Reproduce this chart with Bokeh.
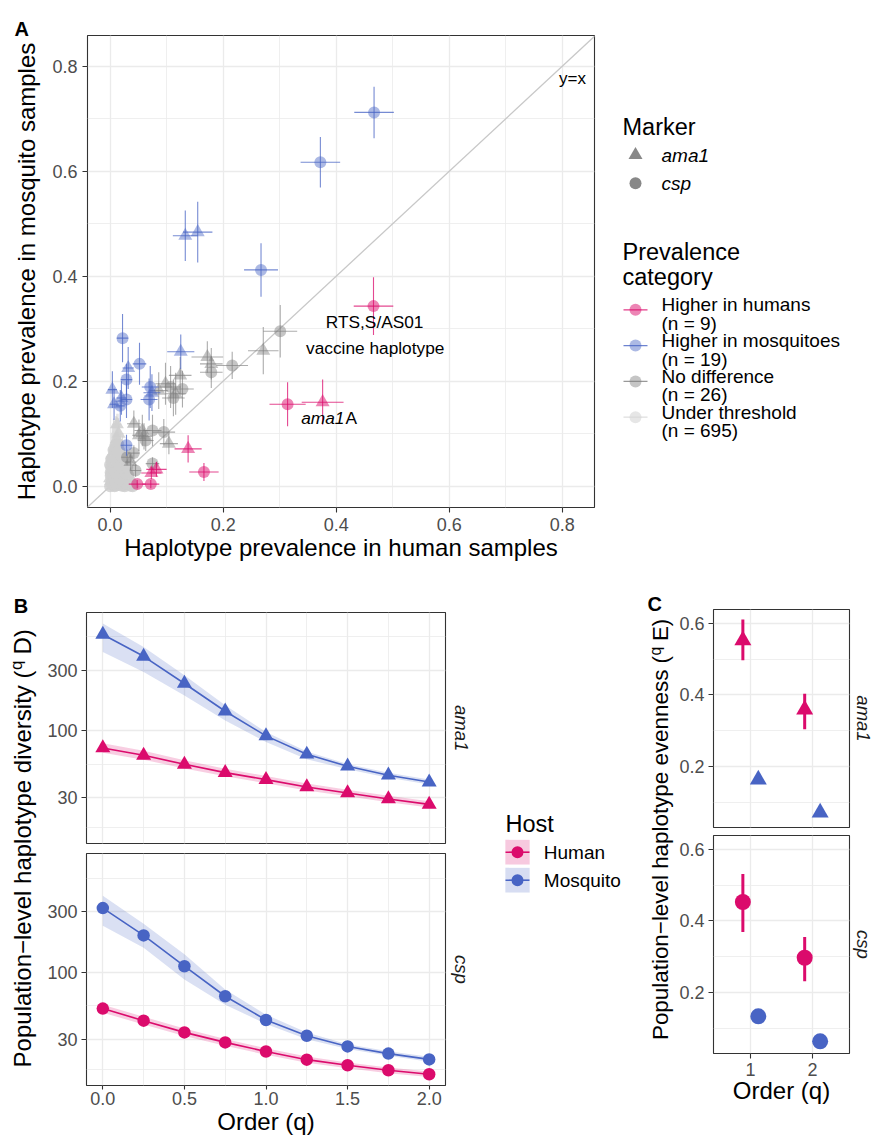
import math
from bokeh.plotting import figure
from bokeh.layouts import row, column
from bokeh.models import (Range1d, FixedTicker, PrintfTickFormatter, Slope,
                          ColumnDataSource, CDSView, GroupFilter)
from bokeh.embed import file_html
from bokeh.resources import INLINE
from bokeh.core.properties import value
from bokeh.transform import dodge

FONT = "Liberation Sans"
HUMAN = "#DB0B6C"
MOSQ = "#4864C4"
GREY = "#7F7F7F"
UTC = "#CFCFCF"
TICKC = "#4D4D4D"
FRAME = "#333333"
GRID = "#EBEBEB"

# ---------------- Panel A data ----------------
hh_marker = ["csp", "csp", "ama1", "ama1", "csp", "csp", "csp", "ama1", "ama1"]
hh_x = [0.466, 0.314, 0.376, 0.138, 0.166, 0.048, 0.072, 0.073, 0.082]
hh_y = [0.343, 0.156, 0.160, 0.071, 0.027, 0.004, 0.004, 0.025, 0.032]
hh_xe = [0.035, 0.032, 0.037, 0.024, 0.026, 0.015, 0.015, 0.018, 0.018]
hh_ye = [0.055, 0.042, 0.043, 0.026, 0.017, 0.008, 0.008, 0.012, 0.014]

hm_marker = ["csp", "csp", "csp", "ama1", "ama1", "csp", "ama1", "csp", "ama1", "csp",
             "ama1", "csp", "ama1", "csp", "csp", "ama1", "csp", "csp", "ama1"]
hm_x = [0.467, 0.372, 0.267, 0.133, 0.155, 0.022, 0.125, 0.052, 0.032, 0.029,
        0.004, 0.071, 0.074, 0.069, 0.029, 0.007, 0.018, 0.029, 0.020]
hm_y = [0.712, 0.617, 0.412, 0.477, 0.484, 0.282, 0.256, 0.233, 0.225, 0.203,
        0.184, 0.189, 0.178, 0.165, 0.165, 0.156, 0.153, 0.078, 0.168]
hm_xe = [0.035, 0.035, 0.030, 0.022, 0.026, 0.010, 0.024, 0.012, 0.010, 0.010,
         0.008, 0.015, 0.015, 0.015, 0.010, 0.008, 0.008, 0.010, 0.009]
hm_ye = [0.049, 0.048, 0.051, 0.048, 0.058, 0.046, 0.033, 0.040, 0.040, 0.030,
         0.035, 0.040, 0.035, 0.040, 0.035, 0.030, 0.030, 0.020, 0.032]

nd_marker = ["csp", "ama1", "csp", "ama1", "ama1", "csp", "ama1", "ama1", "csp", "ama1",
             "csp", "ama1", "ama1", "ama1", "csp", "csp", "ama1", "csp", "csp", "csp",
             "ama1", "csp", "ama1", "ama1", "csp", "csp"]
nd_x = [0.301, 0.271, 0.216, 0.172, 0.179, 0.179, 0.124, 0.098, 0.107, 0.116,
        0.112, 0.042, 0.057, 0.051, 0.075, 0.095, 0.104, 0.042, 0.045, 0.075,
        0.060, 0.063, 0.036, 0.086, 0.128, 0.030]
nd_y = [0.295, 0.258, 0.230, 0.246, 0.233, 0.217, 0.211, 0.195, 0.189, 0.176,
        0.168, 0.119, 0.106, 0.097, 0.106, 0.103, 0.081, 0.063, 0.030, 0.043,
        0.095, 0.087, 0.046, 0.182, 0.185, 0.055]
nd_xe = [0.030, 0.027, 0.028, 0.028, 0.020, 0.020, 0.020, 0.018, 0.018, 0.018,
         0.020, 0.012, 0.014, 0.012, 0.016, 0.020, 0.016, 0.010, 0.010, 0.012,
         0.014, 0.014, 0.010, 0.016, 0.020, 0.010]
nd_ye = [0.050, 0.045, 0.026, 0.030, 0.030, 0.030, 0.035, 0.040, 0.040, 0.040,
         0.035, 0.025, 0.030, 0.030, 0.030, 0.025, 0.020, 0.015, 0.012, 0.012,
         0.025, 0.020, 0.015, 0.035, 0.035, 0.015]

# "Under threshold" cloud (a representative, hand-read subset of the 695 points)
ut_marker = ["csp", "ama1", "csp", "csp", "ama1", "csp", "csp", "ama1", "csp", "csp",
             "ama1", "csp", "csp", "ama1", "csp", "csp", "ama1", "csp",
             "csp", "csp", "ama1", "csp", "csp", "ama1", "csp", "csp",
             "ama1", "csp", "csp", "csp", "ama1", "csp", "csp",
             "csp", "ama1", "csp", "csp", "ama1", "csp",
             "csp", "csp", "ama1", "csp", "csp",
             "ama1", "csp", "csp", "csp",
             "csp", "ama1", "csp",
             "csp", "csp", "ama1",
             "csp", "csp", "ama1", "csp", "csp",
             "ama1", "csp", "csp", "csp", "ama1",
             "csp", "csp", "ama1", "csp",
             "csp", "ama1", "csp", "csp",
             "csp", "csp", "ama1",
             "csp", "ama1", "csp",
             "csp", "csp",
             "ama1", "ama1"]
ut_x = [0.000, 0.004, 0.008, 0.012, 0.017, 0.021, 0.026, 0.031, 0.036, 0.040,
        0.002, 0.006, 0.011, 0.015, 0.019, 0.024, 0.029, 0.034,
        0.001, 0.005, 0.009, 0.014, 0.018, 0.023, 0.027, 0.032,
        0.003, 0.007, 0.012, 0.016, 0.020, 0.025, 0.029,
        0.000, 0.005, 0.010, 0.014, 0.019, 0.023,
        0.002, 0.007, 0.011, 0.016, 0.021,
        0.004, 0.009, 0.013, 0.018,
        0.006, 0.011, 0.016,
        0.010, 0.014, 0.012,
        0.002, 0.010, 0.019, 0.028, 0.038,
        0.000, 0.008, 0.017, 0.026, 0.035,
        0.001, 0.010, 0.019, 0.028,
        0.002, 0.011, 0.021, 0.030,
        0.003, 0.012, 0.021,
        0.005, 0.014, 0.022,
        0.008, 0.014,
        0.012, 0.015]
ut_y = [0.000, 0.001, 0.000, 0.002, 0.000, 0.001, 0.000, 0.002, 0.001, 0.000,
        0.010, 0.009, 0.011, 0.008, 0.012, 0.010, 0.009, 0.011,
        0.020, 0.022, 0.019, 0.021, 0.020, 0.023, 0.018, 0.021,
        0.031, 0.030, 0.033, 0.029, 0.032, 0.030, 0.028,
        0.041, 0.043, 0.040, 0.044, 0.042, 0.039,
        0.052, 0.050, 0.054, 0.051, 0.049,
        0.060, 0.062, 0.059, 0.061,
        0.069, 0.071, 0.068,
        0.078, 0.080, 0.118,
        0.005, 0.006, 0.004, 0.005, 0.006,
        0.015, 0.016, 0.014, 0.015, 0.016,
        0.026, 0.025, 0.027, 0.024,
        0.036, 0.037, 0.035, 0.036,
        0.047, 0.046, 0.048,
        0.056, 0.057, 0.055,
        0.065, 0.066,
        0.090, 0.100]
ut_xe = [0.003, 0.004, 0.003, 0.005, 0.004, 0.005, 0.004, 0.006, 0.005, 0.006,
         0.004, 0.005, 0.006, 0.005, 0.006, 0.005, 0.006, 0.007,
         0.005, 0.006, 0.006, 0.007, 0.006, 0.007, 0.008, 0.008,
         0.006, 0.007, 0.008, 0.007, 0.008, 0.008, 0.009,
         0.006, 0.007, 0.008, 0.008, 0.009, 0.009,
         0.007, 0.008, 0.009, 0.009, 0.010,
         0.008, 0.009, 0.010, 0.010,
         0.009, 0.010, 0.010,
         0.010, 0.011, 0.008,
         0.003, 0.004, 0.005, 0.005, 0.006,
         0.004, 0.005, 0.006, 0.006, 0.007,
         0.005, 0.006, 0.007, 0.007,
         0.006, 0.007, 0.008, 0.008,
         0.007, 0.008, 0.008,
         0.008, 0.009, 0.009,
         0.009, 0.009,
         0.008, 0.009]
ut_ye = [0.004, 0.005, 0.004, 0.006, 0.005, 0.004, 0.005, 0.006, 0.004, 0.005,
         0.012, 0.010, 0.014, 0.011, 0.012, 0.010, 0.011, 0.012,
         0.020, 0.025, 0.018, 0.022, 0.020, 0.024, 0.016, 0.019,
         0.030, 0.034, 0.028, 0.026, 0.032, 0.022, 0.020,
         0.040, 0.045, 0.036, 0.038, 0.030, 0.028,
         0.050, 0.048, 0.052, 0.040, 0.035,
         0.055, 0.060, 0.050, 0.045,
         0.060, 0.062, 0.050,
         0.055, 0.058, 0.020,
         0.006, 0.007, 0.006, 0.005, 0.006,
         0.014, 0.016, 0.013, 0.012, 0.012,
         0.022, 0.024, 0.020, 0.018,
         0.032, 0.035, 0.028, 0.025,
         0.040, 0.042, 0.035,
         0.048, 0.050, 0.040,
         0.055, 0.052,
         0.035, 0.030]

prev_labels = ["Higher in humans", "Higher in mosquitoes", "No difference", "Under threshold"]
prev_counts = ["(n = 9)", "(n = 19)", "(n = 26)", "(n = 695)"]
marker_labels = ["ama1", "csp"]
a_ticks = [0.0, 0.2, 0.4, 0.6, 0.8]
a_minor = [0.1, 0.3, 0.5, 0.7]

# ---------------- Panel B data ----------------
q_vals = [0.0, 0.25, 0.5, 0.75, 1.0, 1.25, 1.5, 1.75, 2.0]
mq_ama1 = [573, 386, 236, 143, 91.5, 65.6, 52.8, 44.9, 39.7]
mq_ama1_lo = [418, 291, 190, 121, 82, 60, 50, 43, 38]
mq_ama1_hi = [698, 457, 274, 159, 98, 69, 55, 47, 41.5]
hu_ama1 = [73.5, 64.4, 54.7, 47.1, 41.5, 36.3, 32.6, 29.2, 26.5]
hu_ama1_lo = [67.5, 59.5, 50.8, 44.0, 38.9, 34.1, 30.7, 27.5, 25.0]
hu_ama1_hi = [80.0, 69.8, 59.0, 50.5, 44.3, 38.6, 34.6, 31.0, 28.1]
mq_csp = [319, 195, 112, 65.2, 42.5, 32, 26.4, 23.2, 20.9]
mq_csp_lo = [232, 156, 88, 56, 39.6, 30, 25.2, 22.3, 20.0]
mq_csp_hi = [398, 241, 139, 73.6, 46.8, 34, 27.5, 24.2, 21.9]
hu_csp = [52.2, 42.0, 34.0, 28.4, 24.1, 20.8, 18.8, 17.2, 16.0]
hu_csp_lo = [48.5, 39.2, 31.8, 26.7, 22.7, 19.7, 17.8, 16.3, 15.2]
hu_csp_hi = [56.0, 45.0, 36.4, 30.2, 25.6, 22.0, 19.8, 18.1, 16.8]
b_yticks = [30, 100, 300]
b_yminor = [17.32, 54.77, 547.7]
b_xticks = [0.0, 0.5, 1.0, 1.5, 2.0]
b_xminor = [0.25, 0.75, 1.25, 1.75]

# ---------------- Panel C data ----------------
c_q = [1, 2]
ev_hu_ama1 = [0.553, 0.359]
ev_hu_ama1_lo = [0.497, 0.304]
ev_hu_ama1_hi = [0.611, 0.403]
ev_mq_ama1 = [0.163, 0.071]
ev_mq_ama1_lo = [0.160, 0.068]
ev_mq_ama1_hi = [0.166, 0.074]
ev_hu_csp = [0.453, 0.297]
ev_hu_csp_lo = [0.369, 0.231]
ev_hu_csp_hi = [0.531, 0.355]
ev_mq_csp = [0.133, 0.063]
ev_mq_csp_lo = [0.130, 0.060]
ev_mq_csp_hi = [0.136, 0.066]
c_yticks = [0.2, 0.4, 0.6]
c_yminor = [0.1, 0.3, 0.5]


# ---------------- helpers ----------------
def blank(w, h):
    p = figure(width=w, height=h, x_range=Range1d(0, w), y_range=Range1d(0, h),
               output_backend="svg", toolbar_location=None, frame_align=False,
               x_axis_location=None, y_axis_location=None, min_border=0)
    p.outline_line_color = None
    p.grid.visible = False
    return p


def txt(p, x, y, s, size, color="black", align="left", baseline="alphabetic",
        angle=0.0, style="normal"):
    p.text(x=[x], y=[y], text=[s], text_font=value(FONT), text_font_size=f"{size}px",
           text_color=color, text_align=align, text_baseline=baseline, angle=angle,
           text_font_style=style)


def style_axes(p, xt, xm, yt, ym, xfmt, yfmt):
    tx = FixedTicker(ticks=xt, minor_ticks=xm)
    ty = FixedTicker(ticks=yt, minor_ticks=ym)
    for ax in p.xaxis:
        ax.ticker = tx
        ax.formatter = PrintfTickFormatter(format=xfmt)
    for ax in p.yaxis:
        ax.ticker = ty
        ax.formatter = PrintfTickFormatter(format=yfmt)
    p.xgrid.ticker = tx
    p.ygrid.ticker = ty
    for g in (p.xgrid, p.ygrid):
        g.grid_line_color = GRID
        g.grid_line_width = 1.3
        g.minor_grid_line_color = GRID
        g.minor_grid_line_width = 0.8
    for ax in p.axis:
        ax.axis_line_color = None
        ax.major_tick_line_color = FRAME
        ax.major_tick_line_width = 1.1
        ax.major_tick_out = 5
        ax.major_tick_in = 0
        ax.minor_tick_line_color = None
        ax.major_label_text_font = FONT
        ax.major_label_text_font_size = "18px"
        ax.major_label_text_color = TICKC
        ax.major_label_standoff = 4
        ax.axis_label_text_font = FONT
        ax.axis_label_text_font_size = "24px"
        ax.axis_label_text_font_style = "normal"
        ax.axis_label_text_color = "black"
        ax.axis_label_standoff = 0
    p.outline_line_color = FRAME
    p.outline_line_width = 1.1


# ---------------- Panel A (row 1: y 0..575) ----------------
H1 = 575
pA = figure(width=556, height=H1, x_range=Range1d(-0.04, 0.857), y_range=Range1d(-0.0406, 0.8585),
            output_backend="svg", toolbar_location=None, frame_align=False,
            min_border_left=43, min_border_right=6, min_border_top=35, min_border_bottom=68)
pA.xaxis.axis_label = "Haplotype prevalence in human samples"
style_axes(pA, a_ticks, a_minor, a_ticks, a_minor, "%.1f", "%.1f")
pA.xaxis.major_label_standoff = 5
pA.yaxis.major_label_standoff = 5

diag = Slope(gradient=1, y_intercept=0, line_color="#C8C8C8", line_width=1.3, level="underlay")
pA.add_layout(diag)


def draw_cat(p, marker, xs, ys, xe, ye, color, alpha, lcolor, lalpha):
    src = ColumnDataSource(dict(
        marker=marker, x=xs, y=ys,
        xlo=[a - b for a, b in zip(xs, xe)], xhi=[a + b for a, b in zip(xs, xe)],
        ylo=[a - b for a, b in zip(ys, ye)], yhi=[a + b for a, b in zip(ys, ye)]))
    p.segment(x0="xlo", y0="y", x1="xhi", y1="y", source=src,
              line_color=lcolor, line_alpha=lalpha, line_width=1.1)
    p.segment(x0="x", y0="ylo", x1="x", y1="yhi", source=src,
              line_color=lcolor, line_alpha=lalpha, line_width=1.1)
    for m, shape, size in (("ama1", "triangle", 14), ("csp", "circle", 12)):
        view = CDSView(filter=GroupFilter(column_name="marker", group=m))
        p.scatter(x="x", y="y", source=src, view=view, marker=shape, size=size,
                  fill_color=color, fill_alpha=alpha, line_color=None)


draw_cat(pA, ut_marker, ut_x, ut_y, ut_xe, ut_ye, UTC, 0.85, "#D8D8D8", 0.9)
draw_cat(pA, nd_marker, nd_x, nd_y, nd_xe, nd_ye, GREY, 0.45, GREY, 0.65)
draw_cat(pA, hm_marker, hm_x, hm_y, hm_xe, hm_ye, MOSQ, 0.45, MOSQ, 0.75)
draw_cat(pA, hh_marker, hh_x, hh_y, hh_xe, hh_ye, HUMAN, 0.5, HUMAN, 0.75)

pA.text(x=[0.818], y=[0.776], text=["y=x"], text_font=value(FONT), text_font_size="17px",
        text_align="center", text_baseline="middle", text_color="black")
pA.text(x=[0.468, 0.469], y=[0.312, 0.264], text=["RTS,S/AS01", "vaccine haplotype"],
        text_font=value(FONT), text_font_size="17.3px", text_align="center",
        text_baseline="middle", text_color="black")
pA.text(x=[0.4145], y=[0.1305], text=["ama1"], text_font=value(FONT), text_font_size="17.3px",
        text_align="right", text_baseline="middle", text_font_style="italic", text_color="black")
pA.text(x=[0.4165], y=[0.1305], text=["A"], text_font=value(FONT), text_font_size="17.3px",
        text_align="left", text_baseline="middle", text_color="black")

# title strip for A (x 0..44)
tA = blank(44, H1)
txt(tA, 14, H1 - 28.3, "A", 20, style="bold")
txt(tA, 26, H1 - 271, "Haplotype prevalence in mosquito samples", 24, align="center",
    baseline="middle", angle=math.pi / 2)

# legend for A (x 600..874)
LX0 = 600
lA = blank(274, H1)


def LA(sx, sy):
    return sx - LX0, H1 - sy


x, y = LA(622, 126.7)
txt(lA, x, y, "Marker", 23.5)
for i, (lab, shape, size) in enumerate(zip(marker_labels, ["triangle", "circle"], [14, 12])):
    kx, ky = LA(635, 154.5 + 28.3 * i)
    lA.scatter(x=[kx], y=[ky], marker=shape, size=size, fill_color="#888888", line_color=None)
    tx_, ty_ = LA(661, 155 + 28 * i)
    txt(lA, tx_, ty_, lab, 19, baseline="middle", style="italic")
x, y = LA(622, 251)
txt(lA, x, y, "Prevalence", 23.5)
x, y = LA(622, 276.7)
txt(lA, x, y, "category", 23.5)
key_cols = [HUMAN, MOSQ, GREY, "#D6D6D6"]
key_alpha = [0.5, 0.45, 0.45, 0.6]
for i, (lab, cnt) in enumerate(zip(prev_labels, prev_counts)):
    ky = 309.3 + 35.8 * i
    x0, y0 = LA(623, ky)
    x1, _ = LA(647, ky)
    xc, _ = LA(635, ky)
    lA.scatter(x=[xc], y=[y0], marker="circle", size=12, fill_color=key_cols[i],
               fill_alpha=key_alpha[i], line_color=None)
    lA.segment(x0=[x0], y0=[y0], x1=[x1], y1=[y0], line_color=key_cols[i],
               line_alpha=0.8, line_width=1.2)
    tx_, ty_ = LA(661, 304.3 + 35.8 * i)
    txt(lA, tx_, ty_, lab, 19)
    tx_, ty_ = LA(661, 322.7 + 35.8 * i)
    txt(lA, tx_, ty_, cnt, 19)

# ---------------- Panel B (row 2: y 575..1137) ----------------
Y2 = 575
H2 = 562


def facet_B(height, top, bottom, show_x, data, shape, size):
    p = figure(width=403, height=height, x_range=Range1d(-0.1, 2.1), y_range=Range1d(13.06, 853),
               y_axis_type="log", output_backend="svg", toolbar_location=None, frame_align=False,
               x_axis_location="below" if show_x else None,
               min_border_left=42, min_border_right=2, min_border_top=top, min_border_bottom=bottom)
    if show_x:
        p.xaxis.axis_label = "Order (q)"
    style_axes(p, b_xticks, b_xminor, b_yticks, b_yminor, "%.1f", "%d")
    if show_x:
        p.xaxis.major_label_standoff = 2
        p.xaxis.major_tick_out = 4
    src = ColumnDataSource(data)
    p.varea(x="q", y1="mq_lo", y2="mq_hi", source=src, fill_color=MOSQ, fill_alpha=0.2)
    p.varea(x="q", y1="hu_lo", y2="hu_hi", source=src, fill_color=HUMAN, fill_alpha=0.2)
    p.line(x="q", y="mq", source=src, line_color=MOSQ, line_width=1.6)
    p.line(x="q", y="hu", source=src, line_color=HUMAN, line_width=1.6)
    p.scatter(x="q", y="mq", source=src, marker=shape, size=size, fill_color=MOSQ, line_color=None)
    p.scatter(x="q", y="hu", source=src, marker=shape, size=size, fill_color=HUMAN, line_color=None)
    return p


pBt = facet_B(273, 37, 5, False,
              dict(q=q_vals, mq=mq_ama1, mq_lo=mq_ama1_lo, mq_hi=mq_ama1_hi,
                   hu=hu_ama1, hu_lo=hu_ama1_lo, hu_hi=hu_ama1_hi), "triangle", 15)
pBb = facet_B(289, 5, 52, True,
              dict(q=q_vals, mq=mq_csp, mq_lo=mq_csp_lo, mq_hi=mq_csp_hi,
                   hu=hu_csp, hu_lo=hu_csp_lo, hu_hi=hu_csp_hi), "circle", 12.5)

tB = blank(44, H2)
txt(tB, 13.3, H2 - (605 - Y2), "B", 20, style="bold")
txt(tB, 22, H2 - (670 - Y2), "Population\u2212level haplotype diversity (", 24, align="right",
    baseline="middle", angle=math.pi / 2)
txt(tB, 16, H2 - (670 - Y2) + 0.5, "q", 16.8, align="left", baseline="middle", angle=math.pi / 2)
txt(tB, 22, H2 - (670 - Y2) + 16, "D)", 24, align="left", baseline="middle", angle=math.pi / 2)

sB = blank(28, H2)
txt(sB, 14, H2 - (727.7 - Y2), "ama1", 18.5, color="#1A1A1A", align="center", baseline="middle",
    angle=-math.pi / 2, style="italic")
txt(sB, 14, H2 - (969 - Y2), "csp", 18.5, color="#1A1A1A", align="center", baseline="middle",
    angle=-math.pi / 2, style="italic")

# legend Host (x 475..640)
HX0 = 475
lB = blank(165, H2)


def LB(sx, sy):
    return sx - HX0, H2 - (sy - Y2)


x, y = LB(505, 823.3)
txt(lB, x, y, "Host", 23.5)
for i, (lab, col) in enumerate(zip(["Human", "Mosquito"], [HUMAN, MOSQ])):
    cy = 851.7 + 28 * i
    kx, ky = LB(517, cy)
    lB.rect(x=[kx], y=[ky], width=24.3, height=24.7, fill_color=col, fill_alpha=0.22, line_color=None)
    lB.segment(x0=[kx - 12], y0=[ky], x1=[kx + 12], y1=[ky], line_color=col, line_width=1.6)
    lB.scatter(x=[kx], y=[ky], marker="circle", size=12, fill_color=col, line_color=None)
    tx_, ty_ = LB(543.3, cy)
    txt(lB, tx_, ty_, lab, 19, baseline="middle")

# ---------------- Panel C ----------------


def facet_C(height, top, bottom, show_x, data, shape, size):
    p = figure(width=175, height=height, x_range=Range1d(0.4, 2.6), y_range=Range1d(0.029, 0.639),
               output_backend="svg", toolbar_location=None, frame_align=False,
               x_axis_location="below" if show_x else None,
               min_border_left=36, min_border_right=2, min_border_top=top, min_border_bottom=bottom)
    if show_x:
        p.xaxis.axis_label = "Order (q)"
    style_axes(p, c_q, [], c_yticks, c_yminor, "%d", "%.1f")
    if show_x:
        p.xaxis.axis_label_standoff = -2
    src = ColumnDataSource(data)
    for key, col, off in (("hu", HUMAN, -0.125), ("mq", MOSQ, 0.125)):
        p.segment(x0=dodge("q", off), y0=key + "_lo", x1=dodge("q", off), y1=key + "_hi",
                  source=src, line_color=col, line_width=3)
        p.scatter(x=dodge("q", off), y=key, source=src, marker=shape, size=size,
                  fill_color=col, line_color=None)
    return p


pCt = facet_C(256, 34, 4, False,
              dict(q=c_q, hu=ev_hu_ama1, hu_lo=ev_hu_ama1_lo, hu_hi=ev_hu_ama1_hi,
                   mq=ev_mq_ama1, mq_lo=ev_mq_ama1_lo, mq_hi=ev_mq_ama1_hi), "triangle", 17)
pCb = facet_C(306, 4, 84, True,
              dict(q=c_q, hu=ev_hu_csp, hu_lo=ev_hu_csp_lo, hu_hi=ev_hu_csp_hi,
                   mq=ev_mq_csp, mq_lo=ev_mq_csp_lo, mq_hi=ev_mq_csp_hi), "circle", 16)

tC = blank(36, H2)
txt(tC, 7, H2 - (603 - Y2), "C", 20, style="bold")
txt(tC, 20, H2 - (655.5 - Y2), "Population\u2212level haplotype evenness (", 22.4, align="right",
    baseline="middle", angle=math.pi / 2)
txt(tC, 14.5, H2 - (655.5 - Y2) + 0.5, "q", 15.7, align="left", baseline="middle", angle=math.pi / 2)
txt(tC, 20, H2 - (655.5 - Y2) + 14.9, "E)", 22.4, align="left", baseline="middle", angle=math.pi / 2)

sC = blank(23, H2)
txt(sC, 12, H2 - (718 - Y2), "ama1", 18.5, color="#1A1A1A", align="center", baseline="middle",
    angle=-math.pi / 2, style="italic")
txt(sC, 12, H2 - (944 - Y2), "csp", 18.5, color="#1A1A1A", align="center", baseline="middle",
    angle=-math.pi / 2, style="italic")

layout = column(
    row(tA, pA, lA),
    row(tB, column(pBt, pBb), sB, lB, tC, column(pCt, pCb), sC),
)

with open("out.html", "w", encoding="utf-8") as f:
    f.write(file_html(layout, INLINE))
